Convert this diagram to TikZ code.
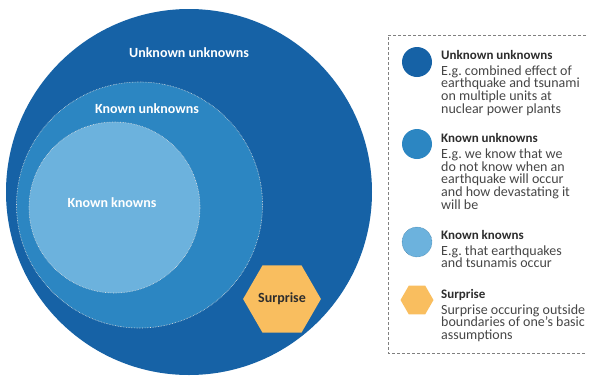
\documentclass[tikz,border=0pt]{standalone}
\usepackage{fontspec}
\setmainfont{Carlito}
\usetikzlibrary{shapes.geometric, positioning}

\definecolor{deepblue}{RGB}{22,98,166}
\definecolor{midblue}{RGB}{44,134,194}
\definecolor{paleblue}{RGB}{108,178,221}
\definecolor{surprisegold}{RGB}{249,190,95}
\definecolor{textgray}{RGB}{70,70,70}
\definecolor{titlegray}{RGB}{45,45,45}

\tikzset{
  zone/.style={circle, inner sep=0pt},
  zoneedge/.style={draw=white!75!gray, densely dotted, line width=0.6pt},
  zonelabel/.style={text=white, font=\bfseries\fontsize{14}{16}\selectfont},
  hexa/.style={regular polygon, regular polygon sides=6, fill=surprisegold, inner sep=0pt},
  keyicon/.style={circle, inner sep=0pt, minimum size=30pt},
  keytext/.style={anchor=north west, inner sep=0pt, align=left, text=textgray,
                  font=\frenchspacing\fontsize{14}{12.7}\selectfont},
}
\newcommand{\keyhead}[1]{{\bfseries\color{titlegray}\fontsize{13}{12.7}\selectfont#1}\\[3pt]}

\begin{document}
\begin{tikzpicture}[x=1pt, y=-1pt]
  \useasboundingbox (0,0) rectangle (590,376);
  % nested circles
  \begin{scope}
    \clip (0,0) rectangle (590,376);
    \node[zone, fill=deepblue, minimum size=366pt] (uu) at (189,192) {};
  \end{scope}
  \node[zone, zoneedge, fill=midblue, minimum size=246pt] (ku) at (139.5,205) {};
  \node[zone, zoneedge, fill=paleblue, minimum size=171pt] (kk) at (114.5,207.5) {};
  \node[zonelabel] (uulab) at (189,53) {Unknown unknowns};
  \node[zonelabel] (kulab) at (147,109) {Known unknowns};
  \node[zonelabel] (kklab) at (112,203) {Known knowns};
  % surprise
  \node[hexa, minimum size=62pt, text=titlegray,
        font=\bfseries\fontsize{14}{16}\selectfont] (surp) at (282,299) {Surprise};

  % legend
  \draw[densely dashed, gray, line width=0.7pt] (586,35) -- (388,35) -- (388,353) -- (586,353);
  \node[keyicon, fill=deepblue] (k1) at (417,62) {};
  \node[keyicon, fill=midblue] (k2) at (417,144) {};
  \node[keyicon, fill=paleblue, draw=midblue!70!black, densely dotted] (k3) at (417,242) {};
  \node[hexa, minimum size=33pt] (k4) at (417,300) {};
  \node[keytext] (t1) at (441,50) {\keyhead{Unknown unknowns}E.g. combined effect of\\earthquake and tsunami\\on multiple units at\\nuclear power plants};
  \node[keytext] (t2) at (441,133.5) {\keyhead{Known unknowns}E.g. we know that we\\do not know when an\\earthquake will occur\\and how devastating it\\will be};
  \node[keytext] (t3) at (441,230) {\keyhead{Known knowns}E.g. that earthquakes\\and tsunamis occur};
  \node[keytext] (t4) at (441,289) {\keyhead{Surprise}Surprise occuring outside\\boundaries of one’s basic\\assumptions};
\end{tikzpicture}
\end{document}
